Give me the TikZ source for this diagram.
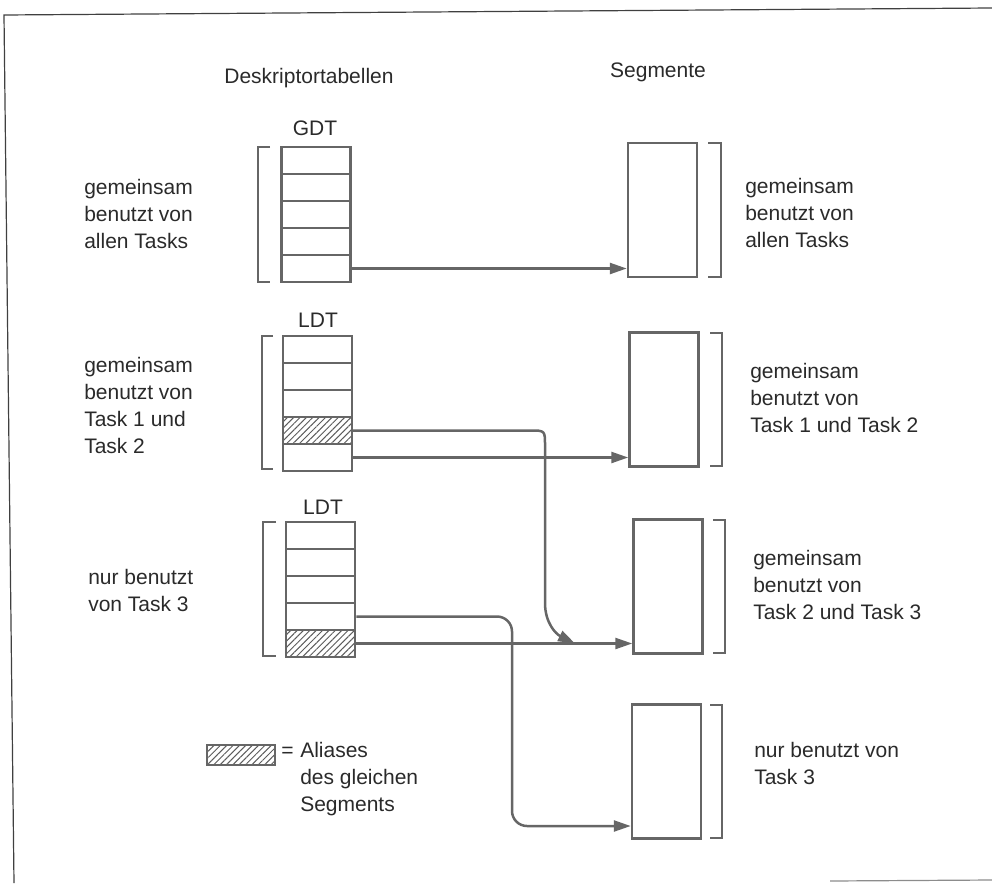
\documentclass[tikz,border=0pt]{standalone}
\usepackage{fontspec}
\setmainfont{Liberation Sans}
\usetikzlibrary{arrows.meta,patterns.meta}
\definecolor{ln}{HTML}{666666}
\definecolor{tx}{HTML}{2A2A2A}
\begin{document}
\begin{tikzpicture}[x=1pt,y=-1pt,
 line width=2.5pt,
 every node/.style={inner sep=0pt, text=tx, font=\fontsize{21}{27}\selectfont},
 cell/.style={draw=ln, minimum width=69pt, minimum height=27pt},
 alias/.style={cell, pattern={Lines[angle=45,distance=4.5pt,line width=1pt]}, pattern color=ln!90!black},
 seg/.style={draw=ln, minimum width=69pt, minimum height=134pt},
 arr/.style={draw=ln, -{Triangle[length=17pt,width=11pt]}},
 brk/.style={draw=ln, line width=2.3pt},
 lbl/.style={align=left, anchor=west},
]
\useasboundingbox (0,0) rectangle (992,883);
% scan frame
\draw[line width=1.2pt, black!75] (992,8) -- (4,15) -- (14,883);
\draw[line width=1.2pt, black!45] (830,881) -- (992,880);

% headings
\node (h1) at (309,78) {Deskriptortabellen};
\node (h2) at (658,72) {Segmente};
\node (tg) at (315,128) {GDT};
\node (tl1) at (318,320) {LDT};
\node (tl2) at (323,507) {LDT};

% GDT
\node[cell] (g1) at (316,160.5) {};
\node[cell] (g2) at (316,187.5) {};
\node[cell] (g3) at (316,214.5) {};
\node[cell] (g4) at (316,241.5) {};
\node[cell] (g5) at (316,268.5) {};
% LDT 1
\node[cell] (a1) at (317.5,349.5) {};
\node[cell] (a2) at (317.5,376.5) {};
\node[cell] (a3) at (317.5,403.5) {};
\node[alias] (a4) at (317.5,430.5) {};
\node[cell] (a5) at (317.5,457.5) {};
% LDT 2
\node[cell] (b1) at (320.5,535.5) {};
\node[cell] (b2) at (320.5,562.5) {};
\node[cell] (b3) at (320.5,589.5) {};
\node[cell] (b4) at (320.5,616.5) {};
\node[alias] (b5) at (320.5,643.5) {};

% segments
\node[seg] (s1) at (662.5,210) {};
\node[seg] (s2) at (664,399.5) {};
\node[seg] (s3) at (668,586.5) {};
\node[seg] (s4) at (666.5,771.5) {};

% brackets
\draw[brk] (270,147) -- (258,147) -- (258,282) -- (270,282);
\draw[brk] (273,336) -- (262,336) -- (262,469) -- (273,469);
\draw[brk] (276,522) -- (263,522) -- (263,656) -- (276,656);
\draw[brk] (708,143) -- (721,143) -- (721,277) -- (708,277);
\draw[brk] (710,333) -- (722,333) -- (722,466) -- (710,466);
\draw[brk] (713,520) -- (725,520) -- (725,653) -- (713,653);
\draw[brk] (710,705) -- (722,705) -- (722,838) -- (710,838);

% left texts
\node[lbl] (t1) at (83,214) {gemeinsam\\benutzt von\\allen Tasks};
\node[lbl] (t2) at (83,405.5) {gemeinsam\\benutzt von\\Task 1 und\\Task 2};
\node[lbl] (t3) at (87,590.5) {nur benutzt\\von Task 3};
% right texts
\node[lbl] (r1) at (744,213) {gemeinsam\\benutzt von\\allen Tasks};
\node[lbl] (r2) at (749,397.5) {gemeinsam\\benutzt von\\Task 1 und Task 2};
\node[lbl] (r3) at (752,584.5) {gemeinsam\\benutzt von\\Task 2 und Task 3};
\node[lbl] (r4) at (753,763.5) {nur benutzt von\\Task 3};

% connectors
\draw[arr] (g5.east) -- (g5.east -| s1.west);
\draw[arr] (a5.east) -- (a5.east -| s2.west);
\draw[arr] (b5.east) -- (b5.east -| s3.west);
\coordinate (m1) at (575,643.5);
\draw[arr] (a4.east) -- (530,430.5) .. controls (545,430.5) .. (545,445.5)
  -- (545,603) .. controls (545,623) and (556,634) .. (m1);
\coordinate (c1) at (512,826);
\draw[arr, rounded corners=15pt] (b4.east) -| (c1) -- (c1 -| s4.west);

% legend
\node[alias, minimum width=68pt, minimum height=20pt] (lg) at (241,755) {};
\node[anchor=west] (eq) at (280,752) {=};
\node[lbl] (lt) at (299,779) {Aliases\\des gleichen\\Segments};
\end{tikzpicture}
\end{document}
